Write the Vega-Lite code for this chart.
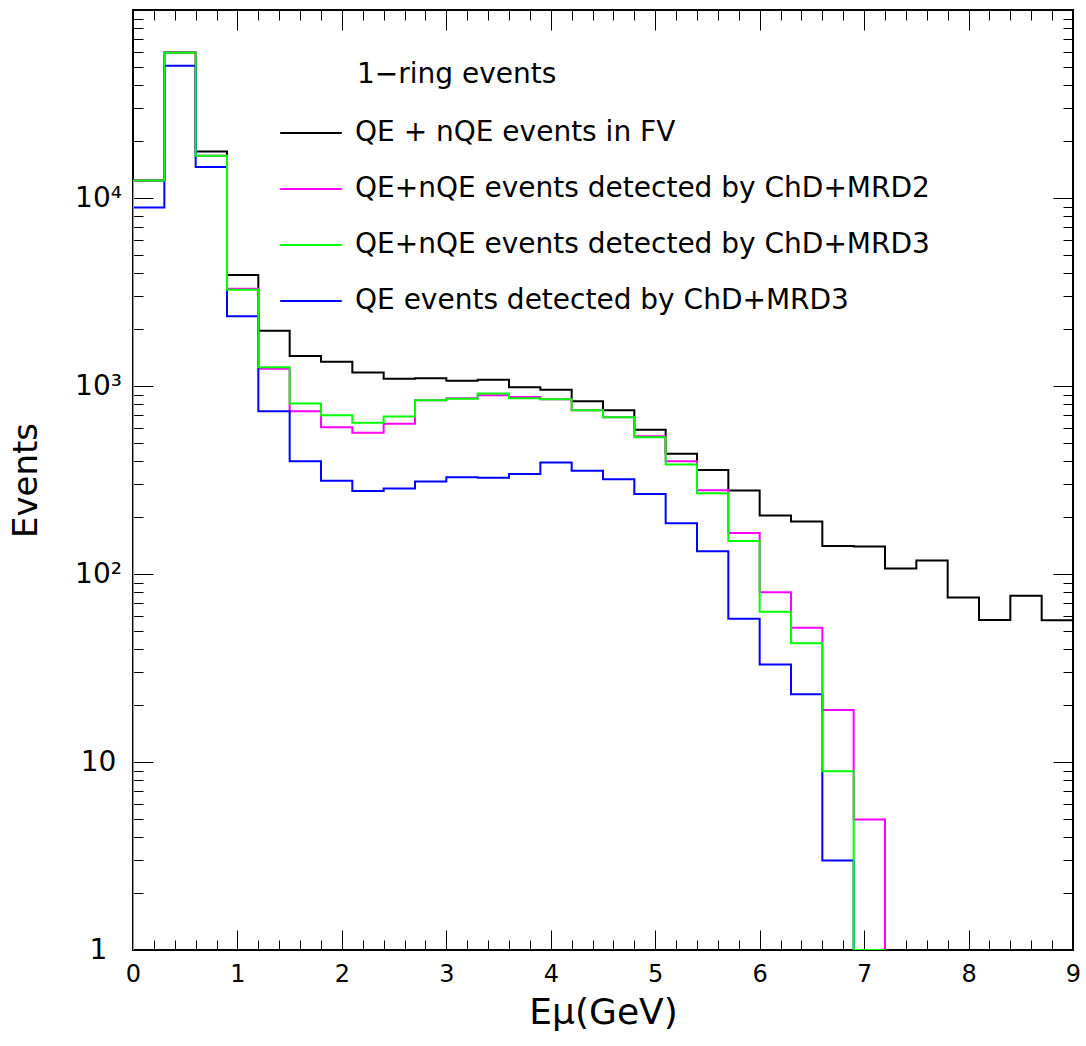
{
  "$schema": "https://vega.github.io/schema/vega-lite/v6.json",
  "width": 940,
  "height": 940,
  "autosize": {"type": "none"},
  "padding": {"left": 133, "top": 10, "right": 13, "bottom": 96},
  "background": "white",
  "config": {
    "view": {"stroke": "black", "strokeWidth": 2},
    "font": "DejaVu Sans",
    "axis": {"labelColor": "black", "titleColor": "black", "tickColor": "black", "labelFont": "DejaVu Sans", "titleFont": "DejaVu Sans", "titleFontWeight": "normal", "grid": false, "domain": false}
  },
  "title": {"text": "1−ring events", "anchor": "start", "frame": "group", "orient": "top", "offset": 0, "dx": 224, "dy": 101, "fontSize": 28, "fontWeight": "normal", "font": "DejaVu Sans", "color": "black", "baseline": "alphabetic"},
  "data": {"values": [
    {"series": "QE + nQE events in FV", "E": 0.0, "events": 1},
    {"series": "QE + nQE events in FV", "E": 0.0, "events": 12400},
    {"series": "QE + nQE events in FV", "E": 0.3, "events": 59500},
    {"series": "QE + nQE events in FV", "E": 0.6, "events": 17700},
    {"series": "QE + nQE events in FV", "E": 0.9, "events": 3900},
    {"series": "QE + nQE events in FV", "E": 1.2, "events": 1967},
    {"series": "QE + nQE events in FV", "E": 1.5, "events": 1442},
    {"series": "QE + nQE events in FV", "E": 1.8, "events": 1346},
    {"series": "QE + nQE events in FV", "E": 2.1, "events": 1180},
    {"series": "QE + nQE events in FV", "E": 2.4, "events": 1092},
    {"series": "QE + nQE events in FV", "E": 2.7, "events": 1101},
    {"series": "QE + nQE events in FV", "E": 3.0, "events": 1066},
    {"series": "QE + nQE events in FV", "E": 3.3, "events": 1079},
    {"series": "QE + nQE events in FV", "E": 3.6, "events": 986},
    {"series": "QE + nQE events in FV", "E": 3.9, "events": 954},
    {"series": "QE + nQE events in FV", "E": 4.2, "events": 830},
    {"series": "QE + nQE events in FV", "E": 4.5, "events": 743},
    {"series": "QE + nQE events in FV", "E": 4.8, "events": 585},
    {"series": "QE + nQE events in FV", "E": 5.1, "events": 436},
    {"series": "QE + nQE events in FV", "E": 5.4, "events": 357},
    {"series": "QE + nQE events in FV", "E": 5.7, "events": 278},
    {"series": "QE + nQE events in FV", "E": 6.0, "events": 205},
    {"series": "QE + nQE events in FV", "E": 6.3, "events": 190},
    {"series": "QE + nQE events in FV", "E": 6.6, "events": 141},
    {"series": "QE + nQE events in FV", "E": 6.9, "events": 140},
    {"series": "QE + nQE events in FV", "E": 7.2, "events": 107},
    {"series": "QE + nQE events in FV", "E": 7.5, "events": 118},
    {"series": "QE + nQE events in FV", "E": 7.8, "events": 75},
    {"series": "QE + nQE events in FV", "E": 8.1, "events": 57},
    {"series": "QE + nQE events in FV", "E": 8.4, "events": 76.6},
    {"series": "QE + nQE events in FV", "E": 8.7, "events": 56.8},
    {"series": "QE + nQE events in FV", "E": 9.0, "events": 56.8},

    {"series": "QE+nQE events detected by ChD+MRD2", "E": 0.0, "events": 1},
    {"series": "QE+nQE events detected by ChD+MRD2", "E": 0.0, "events": 12400},
    {"series": "QE+nQE events detected by ChD+MRD2", "E": 0.3, "events": 59200},
    {"series": "QE+nQE events detected by ChD+MRD2", "E": 0.6, "events": 16800},
    {"series": "QE+nQE events detected by ChD+MRD2", "E": 0.9, "events": 3290},
    {"series": "QE+nQE events detected by ChD+MRD2", "E": 1.2, "events": 1234},
    {"series": "QE+nQE events detected by ChD+MRD2", "E": 1.5, "events": 734},
    {"series": "QE+nQE events detected by ChD+MRD2", "E": 1.8, "events": 604},
    {"series": "QE+nQE events detected by ChD+MRD2", "E": 2.1, "events": 564},
    {"series": "QE+nQE events detected by ChD+MRD2", "E": 2.4, "events": 629},
    {"series": "QE+nQE events detected by ChD+MRD2", "E": 2.7, "events": 841},
    {"series": "QE+nQE events detected by ChD+MRD2", "E": 3.0, "events": 860},
    {"series": "QE+nQE events detected by ChD+MRD2", "E": 3.3, "events": 893},
    {"series": "QE+nQE events detected by ChD+MRD2", "E": 3.6, "events": 873},
    {"series": "QE+nQE events detected by ChD+MRD2", "E": 3.9, "events": 851},
    {"series": "QE+nQE events detected by ChD+MRD2", "E": 4.2, "events": 743},
    {"series": "QE+nQE events detected by ChD+MRD2", "E": 4.5, "events": 682},
    {"series": "QE+nQE events detected by ChD+MRD2", "E": 4.8, "events": 541},
    {"series": "QE+nQE events detected by ChD+MRD2", "E": 5.1, "events": 398},
    {"series": "QE+nQE events detected by ChD+MRD2", "E": 5.4, "events": 279},
    {"series": "QE+nQE events detected by ChD+MRD2", "E": 5.7, "events": 165},
    {"series": "QE+nQE events detected by ChD+MRD2", "E": 6.0, "events": 80},
    {"series": "QE+nQE events detected by ChD+MRD2", "E": 6.3, "events": 51.7},
    {"series": "QE+nQE events detected by ChD+MRD2", "E": 6.6, "events": 18.9},
    {"series": "QE+nQE events detected by ChD+MRD2", "E": 6.9, "events": 4.95},
    {"series": "QE+nQE events detected by ChD+MRD2", "E": 7.2, "events": 1},

    {"series": "QE events detected by ChD+MRD3", "E": 0.0, "events": 1},
    {"series": "QE events detected by ChD+MRD3", "E": 0.0, "events": 8900},
    {"series": "QE events detected by ChD+MRD3", "E": 0.3, "events": 50500},
    {"series": "QE events detected by ChD+MRD3", "E": 0.6, "events": 14600},
    {"series": "QE events detected by ChD+MRD3", "E": 0.9, "events": 2350},
    {"series": "QE events detected by ChD+MRD3", "E": 1.2, "events": 734},
    {"series": "QE events detected by ChD+MRD3", "E": 1.5, "events": 398},
    {"series": "QE events detected by ChD+MRD3", "E": 1.8, "events": 313},
    {"series": "QE events detected by ChD+MRD3", "E": 2.1, "events": 276},
    {"series": "QE events detected by ChD+MRD3", "E": 2.4, "events": 285},
    {"series": "QE events detected by ChD+MRD3", "E": 2.7, "events": 310},
    {"series": "QE events detected by ChD+MRD3", "E": 3.0, "events": 327},
    {"series": "QE events detected by ChD+MRD3", "E": 3.3, "events": 325},
    {"series": "QE events detected by ChD+MRD3", "E": 3.6, "events": 340},
    {"series": "QE events detected by ChD+MRD3", "E": 3.9, "events": 392},
    {"series": "QE events detected by ChD+MRD3", "E": 4.2, "events": 354},
    {"series": "QE events detected by ChD+MRD3", "E": 4.5, "events": 319},
    {"series": "QE events detected by ChD+MRD3", "E": 4.8, "events": 266},
    {"series": "QE events detected by ChD+MRD3", "E": 5.1, "events": 186},
    {"series": "QE events detected by ChD+MRD3", "E": 5.4, "events": 132},
    {"series": "QE events detected by ChD+MRD3", "E": 5.7, "events": 57.8},
    {"series": "QE events detected by ChD+MRD3", "E": 6.0, "events": 33},
    {"series": "QE events detected by ChD+MRD3", "E": 6.3, "events": 22.9},
    {"series": "QE events detected by ChD+MRD3", "E": 6.6, "events": 2.99},
    {"series": "QE events detected by ChD+MRD3", "E": 6.9, "events": 1},

    {"series": "QE+nQE events detected by ChD+MRD3", "E": 0.0, "events": 1},
    {"series": "QE+nQE events detected by ChD+MRD3", "E": 0.0, "events": 12400},
    {"series": "QE+nQE events detected by ChD+MRD3", "E": 0.3, "events": 59200},
    {"series": "QE+nQE events detected by ChD+MRD3", "E": 0.6, "events": 16800},
    {"series": "QE+nQE events detected by ChD+MRD3", "E": 0.9, "events": 3250},
    {"series": "QE+nQE events detected by ChD+MRD3", "E": 1.2, "events": 1259},
    {"series": "QE+nQE events detected by ChD+MRD3", "E": 1.5, "events": 807},
    {"series": "QE+nQE events detected by ChD+MRD3", "E": 1.8, "events": 699},
    {"series": "QE+nQE events detected by ChD+MRD3", "E": 2.1, "events": 637},
    {"series": "QE+nQE events detected by ChD+MRD3", "E": 2.4, "events": 689},
    {"series": "QE+nQE events detected by ChD+MRD3", "E": 2.7, "events": 841},
    {"series": "QE+nQE events detected by ChD+MRD3", "E": 3.0, "events": 855},
    {"series": "QE+nQE events detected by ChD+MRD3", "E": 3.3, "events": 912},
    {"series": "QE+nQE events detected by ChD+MRD3", "E": 3.6, "events": 861},
    {"series": "QE+nQE events detected by ChD+MRD3", "E": 3.9, "events": 851},
    {"series": "QE+nQE events detected by ChD+MRD3", "E": 4.2, "events": 743},
    {"series": "QE+nQE events detected by ChD+MRD3", "E": 4.5, "events": 682},
    {"series": "QE+nQE events detected by ChD+MRD3", "E": 4.8, "events": 534},
    {"series": "QE+nQE events detected by ChD+MRD3", "E": 5.1, "events": 382},
    {"series": "QE+nQE events detected by ChD+MRD3", "E": 5.4, "events": 269},
    {"series": "QE+nQE events detected by ChD+MRD3", "E": 5.7, "events": 150},
    {"series": "QE+nQE events detected by ChD+MRD3", "E": 6.0, "events": 63},
    {"series": "QE+nQE events detected by ChD+MRD3", "E": 6.3, "events": 42.8},
    {"series": "QE+nQE events detected by ChD+MRD3", "E": 6.6, "events": 8.93},
    {"series": "QE+nQE events detected by ChD+MRD3", "E": 6.9, "events": 1},
    {"series": "QE+nQE events detected by ChD+MRD3", "E": 7.2, "events": 1}
  ]},
  "layer": [
    {
      "mark": {"type": "line", "interpolate": "step-after", "strokeWidth": 2, "clip": true},
      "encoding": {
        "x": {"field": "E", "type": "quantitative", "scale": {"domain": [0, 9], "nice": false, "zero": false},
          "axis": {"orient": "bottom", "values": [0, 1, 2, 3, 4, 5, 6, 7, 8, 9], "ticks": false, "labelFontSize": 24, "labelPadding": 12, "labelFlush": false, "labelBaseline": "top",
            "title": "Eμ(GeV)", "titleFontSize": 36, "titleX": 470, "titleY": 73, "titleBaseline": "alphabetic", "titleAlign": "center"}},
        "y": {"field": "events", "type": "quantitative", "scale": {"type": "log", "domain": [1, 100000], "nice": false},
          "axis": {"orient": "left", "values": [1, 10, 100, 1000, 10000], "ticks": false, "labelFontSize": 28, "labelPadding": 35, "labelAlign": "center", "labelBaseline": "middle", "labelFlush": false,
            "labelExpr": "datum.value == 1 ? '1' : datum.value == 10 ? '10' : datum.value == 100 ? '10²' : datum.value == 1000 ? '10³' : '10⁴'",
            "title": "Events", "titleFontSize": 34, "titleX": -107, "titleY": 470, "titleAngle": -90, "titleBaseline": "middle", "titleAlign": "center"}},
        "color": {"field": "series", "type": "nominal",
          "scale": {"domain": ["QE + nQE events in FV", "QE+nQE events detected by ChD+MRD2", "QE+nQE events detected by ChD+MRD3", "QE events detected by ChD+MRD3"], "range": ["#000000", "#ff00ff", "#00ff00", "#0000ff"]},
          "legend": {"orient": "none", "legendX": 149, "legendY": 94, "title": null, "symbolType": "M-1.1,0H1.1", "symbolSize": 3136, "symbolStrokeWidth": 2, "labelFontSize": 28, "labelFont": "DejaVu Sans", "labelColor": "black", "labelOffset": 15, "rowPadding": 13, "labelLimit": 1000}},
        "order": {"value": null}
      }
    },
    {
      "mark": {"type": "point", "opacity": 0},
      "encoding": {
        "x": {"field": "E", "type": "quantitative", "scale": {"domain": [0, 9], "nice": false, "zero": false},
          "axis": {"orient": "bottom", "values": [0, 1, 2, 3, 4, 5, 6, 7, 8, 9], "labels": false, "ticks": true, "tickSize": -20, "tickWidth": 1, "title": null}},
        "y": {"field": "events", "type": "quantitative", "scale": {"type": "log", "domain": [1, 100000], "nice": false},
          "axis": {"orient": "left", "values": [1, 10, 100, 1000, 10000], "labels": false, "ticks": true, "tickSize": -20, "tickWidth": 1, "title": null}}
      }
    },
    {
      "mark": {"type": "point", "opacity": 0},
      "encoding": {
        "x": {"field": "E", "type": "quantitative", "scale": {"domain": [0, 9], "nice": false, "zero": false},
          "axis": {"orient": "bottom", "values": [0.2, 0.4, 0.6, 0.8, 1.2, 1.4, 1.6, 1.8, 2.2, 2.4, 2.6, 2.8, 3.2, 3.4, 3.6, 3.8, 4.2, 4.4, 4.6, 4.8, 5.2, 5.4, 5.6, 5.8, 6.2, 6.4, 6.6, 6.8, 7.2, 7.4, 7.6, 7.8, 8.2, 8.4, 8.6, 8.8], "labels": false, "ticks": true, "tickSize": -10, "tickWidth": 1, "title": null}},
        "y": {"field": "events", "type": "quantitative", "scale": {"type": "log", "domain": [1, 100000], "nice": false},
          "axis": {"orient": "left", "values": [2, 3, 4, 5, 6, 7, 8, 9, 20, 30, 40, 50, 60, 70, 80, 90, 200, 300, 400, 500, 600, 700, 800, 900, 2000, 3000, 4000, 5000, 6000, 7000, 8000, 9000, 20000, 30000, 40000, 50000, 60000, 70000, 80000, 90000], "labels": false, "ticks": true, "tickSize": -10, "tickWidth": 1, "title": null}}
      }
    },
    {
      "mark": {"type": "point", "opacity": 0},
      "encoding": {
        "x": {"field": "E", "type": "quantitative", "scale": {"domain": [0, 9], "nice": false, "zero": false},
          "axis": {"orient": "top", "values": [0, 1, 2, 3, 4, 5, 6, 7, 8, 9], "labels": false, "ticks": true, "tickSize": -20, "tickWidth": 1, "title": null}},
        "y": {"field": "events", "type": "quantitative", "scale": {"type": "log", "domain": [1, 100000], "nice": false},
          "axis": {"orient": "right", "values": [1, 10, 100, 1000, 10000], "labels": false, "ticks": true, "tickSize": -20, "tickWidth": 1, "title": null}}
      }
    },
    {
      "mark": {"type": "point", "opacity": 0},
      "encoding": {
        "x": {"field": "E", "type": "quantitative", "scale": {"domain": [0, 9], "nice": false, "zero": false},
          "axis": {"orient": "top", "values": [0.2, 0.4, 0.6, 0.8, 1.2, 1.4, 1.6, 1.8, 2.2, 2.4, 2.6, 2.8, 3.2, 3.4, 3.6, 3.8, 4.2, 4.4, 4.6, 4.8, 5.2, 5.4, 5.6, 5.8, 6.2, 6.4, 6.6, 6.8, 7.2, 7.4, 7.6, 7.8, 8.2, 8.4, 8.6, 8.8], "labels": false, "ticks": true, "tickSize": -10, "tickWidth": 1, "title": null}},
        "y": {"field": "events", "type": "quantitative", "scale": {"type": "log", "domain": [1, 100000], "nice": false},
          "axis": {"orient": "right", "values": [2, 3, 4, 5, 6, 7, 8, 9, 20, 30, 40, 50, 60, 70, 80, 90, 200, 300, 400, 500, 600, 700, 800, 900, 2000, 3000, 4000, 5000, 6000, 7000, 8000, 9000, 20000, 30000, 40000, 50000, 60000, 70000, 80000, 90000], "labels": false, "ticks": true, "tickSize": -10, "tickWidth": 1, "title": null}}
      }
    }
  ],
  "resolve": {"axis": {"x": "independent", "y": "independent"}}
}
